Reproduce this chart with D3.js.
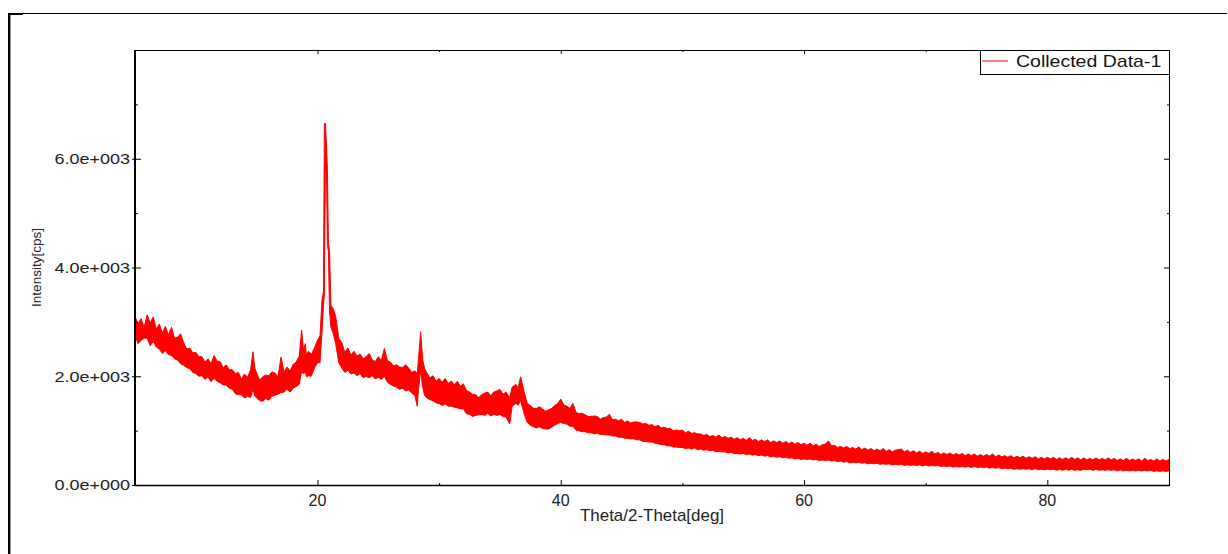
<!DOCTYPE html>
<html lang="en">
<head>
<meta charset="UTF-8">
<title>XRD pattern</title>
<script src="https://cdn.jsdelivr.net/npm/d3@7"></script>
<style>
  body { margin: 0; background: #fff; }
  svg { display: block; font-family: "Liberation Sans", Arial, sans-serif; }
</style>
</head>
<body>
<svg id="chart" width="1228" height="554"></svg>
<script>
// 2-theta positions (deg) and the top / bottom edge of the noisy trace (cps)
// one line per degree, the three arrays line up line by line
const twoTheta = [
  5, 5.25, 5.5, 5.75,
  6, 6.25, 6.5, 6.75,
  7, 7.25, 7.5, 7.75,
  8, 8.25, 8.5, 8.75,
  9, 9.25, 9.5, 9.75,
  10, 10.25, 10.5, 10.75,
  11, 11.25, 11.5, 11.75,
  12, 12.25, 12.5, 12.75,
  13, 13.25, 13.5, 13.75,
  14, 14.25, 14.5, 14.7, 14.85,
  15, 15.25, 15.5, 15.75,
  16, 16.25, 16.5, 16.75,
  17, 17.25, 17.5, 17.75,
  18, 18.25, 18.5, 18.7, 18.85,
  19, 19.1, 19.25, 19.5, 19.75,
  20, 20.21, 20.37, 20.49, 20.57, 20.65, 20.74, 20.82, 20.9, 20.99,
  21.11, 21.28, 21.5, 21.75,
  22, 22.25, 22.5, 22.75,
  23, 23.25, 23.5, 23.75,
  24, 24.25, 24.5, 24.75,
  25, 25.25, 25.5, 25.75,
  26, 26.25, 26.5, 26.75,
  27, 27.25, 27.5, 27.75,
  28, 28.2, 28.3, 28.48, 28.65, 28.8,
  29, 29.25, 29.5, 29.75,
  30, 30.25, 30.5, 30.75,
  31, 31.25, 31.5, 31.75,
  32, 32.25, 32.5, 32.75,
  33, 33.25, 33.5, 33.75,
  34, 34.25, 34.5, 34.75,
  35, 35.25, 35.5, 35.8,
  36, 36.3, 36.5, 36.7,
  37, 37.25, 37.5, 37.75,
  38, 38.25, 38.5, 38.75,
  39, 39.25, 39.5, 39.75,
  40, 40.25, 40.5, 40.75,
  41, 41.25, 41.5, 41.75,
  42, 42.25, 42.5, 42.75,
  43, 43.25, 43.5, 43.75,
  44, 44.25, 44.5, 44.75,
  45, 45.25, 45.5, 45.75,
  46, 46.25, 46.5, 46.75,
  47, 47.25, 47.5, 47.75,
  48, 48.25, 48.5, 48.75,
  49, 49.25, 49.5, 49.75,
  50, 50.25, 50.5, 50.75,
  51, 51.25, 51.5, 51.75,
  52, 52.25, 52.5, 52.75,
  53, 53.25, 53.5, 53.75,
  54, 54.25, 54.5, 54.75,
  55, 55.25, 55.5, 55.75,
  56, 56.25, 56.5, 56.75,
  57, 57.25, 57.5, 57.75,
  58, 58.25, 58.5, 58.75,
  59, 59.25, 59.5, 59.75,
  60, 60.25, 60.5, 60.75,
  61, 61.25, 61.5, 61.75,
  62, 62.25, 62.5, 62.75,
  63, 63.25, 63.5, 63.75,
  64, 64.25, 64.5, 64.75,
  65, 65.25, 65.5, 65.75,
  66, 66.25, 66.5, 66.75,
  67, 67.25, 67.5, 67.75,
  68, 68.25, 68.5, 68.75,
  69, 69.25, 69.5, 69.75,
  70, 70.25, 70.5, 70.75,
  71, 71.25, 71.5, 71.75,
  72, 72.25, 72.5, 72.75,
  73, 73.25, 73.5, 73.75,
  74, 74.25, 74.5, 74.75,
  75, 75.25, 75.5, 75.75,
  76, 76.25, 76.5, 76.75,
  77, 77.25, 77.5, 77.75,
  78, 78.25, 78.5, 78.75,
  79, 79.25, 79.5, 79.75,
  80, 80.25, 80.5, 80.75,
  81, 81.25, 81.5, 81.75,
  82, 82.25, 82.5, 82.75,
  83, 83.25, 83.5, 83.75,
  84, 84.25, 84.5, 84.75,
  85, 85.25, 85.5, 85.75,
  86, 86.25, 86.5, 86.75,
  87, 87.25, 87.5, 87.75,
  88, 88.25, 88.5, 88.75,
  89, 89.25, 89.5, 89.75,
  90
];
const upper = [
  3100, 2960, 3060, 2900,
  3130, 2980, 3090, 2870,
  2960, 2800, 2920, 2760,
  2900, 2700, 2720, 2780,
  2620, 2500, 2520, 2430,
  2440, 2360, 2360, 2260,
  2320, 2230, 2380, 2280,
  2270, 2160, 2210, 2120,
  2120, 2050, 2070, 1950,
  2040, 1980, 2120, 2450, 2150,
  2060, 1930, 1990, 2020,
  2010, 2080, 2060, 1990,
  2350, 2080, 2170, 2090,
  2220, 2260, 2370, 2850, 2480,
  2600, 2380, 2460, 2400, 2520,
  2660, 2750, 3400, 3550, 6650, 6650, 6250, 5800, 4450, 4300,
  3300, 3250, 3100, 2700,
  2620, 2440, 2520, 2390,
  2460, 2370, 2410, 2320,
  2360, 2420, 2300, 2270,
  2360, 2290, 2510, 2290,
  2260, 2190, 2210, 2170,
  2160, 2210, 2150, 2070,
  2100, 2050, 2300, 2820, 2300, 2150,
  2060, 1970, 2010, 1910,
  1960, 1890, 1960, 1870,
  1910, 1840, 1910, 1810,
  1860, 1740, 1710, 1670,
  1660, 1610, 1660, 1690,
  1710, 1640, 1710, 1730,
  1760, 1670, 1710, 1600,
  1800, 1850, 1790, 1990,
  1700, 1500, 1460, 1410,
  1410, 1440, 1400, 1360,
  1380, 1410, 1460, 1500,
  1580, 1470, 1450, 1410,
  1500, 1340, 1310, 1320,
  1290, 1260, 1260, 1270,
  1260, 1210, 1240, 1250,
  1300, 1200, 1210, 1180,
  1210, 1150, 1180, 1140,
  1160, 1160, 1150, 1120,
  1130, 1100, 1110, 1070,
  1100, 1050, 1060, 1040,
  1040, 1000, 1010, 1000,
  1010, 960, 990, 950,
  960, 940, 940, 910,
  930, 890, 910, 880,
  920, 870, 890, 860,
  880, 840, 870, 830,
  860, 820, 870, 820,
  840, 800, 830, 800,
  830, 780, 810, 780,
  810, 770, 800, 760,
  790, 750, 780, 740,
  770, 730, 770, 720,
  750, 710, 740, 750,
  810, 720, 730, 690,
  710, 680, 710, 670,
  690, 660, 700, 650,
  680, 640, 670, 630,
  660, 630, 670, 620,
  650, 610, 640, 650,
  660, 610, 640, 600,
  630, 590, 620, 580,
  610, 580, 620, 570,
  600, 560, 590, 560,
  590, 550, 580, 550,
  580, 540, 570, 540,
  570, 530, 560, 530,
  560, 530, 570, 520,
  550, 520, 540, 510,
  540, 500, 530, 500,
  530, 490, 520, 490,
  520, 480, 510, 480,
  510, 480, 510, 470,
  500, 470, 500, 470,
  510, 470, 500, 460,
  500, 460, 490, 460,
  500, 460, 490, 460,
  500, 460, 490, 450,
  480, 450, 490, 450,
  480, 450, 480, 440,
  490, 450, 470, 440,
  480, 440, 470, 440,
  470
];
const lower = [
  2750, 2600, 2660, 2700,
  2700, 2560, 2640, 2540,
  2500, 2420, 2470, 2400,
  2380, 2320, 2300, 2230,
  2200, 2160, 2140, 2070,
  2050, 2000, 2010, 1940,
  1990, 1900, 1960, 1910,
  1880, 1840, 1840, 1780,
  1760, 1680, 1660, 1660,
  1600, 1630, 1610, 1760, 1640,
  1600, 1550, 1540, 1590,
  1560, 1630, 1650, 1670,
  1700, 1710, 1760, 1710,
  1780, 1810, 1850, 2100, 2040,
  2100, 1990, 2010, 2000, 2150,
  2250, 2250, 2800, 3300, 3500, 5800, 5800, 4400, 4300, 3200,
  2900, 2800, 2600, 2250,
  2150, 2070, 2110, 2040,
  2060, 2010, 2050, 1970,
  2000, 1970, 2010, 1950,
  1980, 1940, 2000, 1890,
  1850, 1820, 1800, 1760,
  1780, 1730, 1750, 1690,
  1650, 1450, 1750, 2100, 1800, 1650,
  1600, 1570, 1550, 1510,
  1500, 1460, 1490, 1450,
  1450, 1430, 1420, 1400,
  1400, 1310, 1300, 1260,
  1280, 1290, 1300, 1280,
  1320, 1270, 1300, 1280,
  1300, 1260, 1250, 1120,
  1450, 1500, 1470, 1550,
  1300, 1150, 1100, 1070,
  1050, 1070, 1040, 1030,
  1030, 1060, 1100, 1130,
  1150, 1130, 1120, 1080,
  1080, 1010, 1000, 980,
  980, 960, 960, 940,
  950, 930, 930, 920,
  920, 900, 900, 880,
  880, 860, 860, 850,
  850, 830, 830, 800,
  800, 790, 790, 770,
  760, 740, 740, 720,
  720, 700, 700, 690,
  690, 670, 680, 660,
  680, 650, 660, 640,
  650, 630, 640, 610,
  620, 610, 610, 590,
  600, 580, 580, 570,
  580, 560, 570, 550,
  560, 540, 550, 530,
  540, 520, 530, 510,
  520, 500, 510, 490,
  500, 480, 490, 470,
  480, 470, 480, 460,
  470, 450, 460, 450,
  460, 440, 450, 430,
  440, 420, 430, 410,
  420, 410, 420, 400,
  410, 390, 400, 390,
  400, 380, 390, 380,
  390, 370, 380, 370,
  380, 360, 370, 360,
  370, 360, 370, 350,
  370, 350, 360, 350,
  360, 340, 350, 340,
  350, 330, 340, 330,
  340, 330, 340, 320,
  340, 320, 330, 320,
  330, 310, 320, 310,
  320, 300, 310, 300,
  310, 290, 300, 290,
  300, 290, 300, 280,
  300, 280, 290, 280,
  290, 280, 290, 270,
  290, 270, 290, 270,
  290, 270, 280, 270,
  290, 280, 290, 270,
  290, 270, 280, 270,
  280, 270, 280, 260,
  280, 260, 270, 260,
  270, 260, 270, 260,
  270, 260, 270, 250,
  260, 250, 260, 250,
  260
];

const xMajor = [20, 40, 60, 80];
const xMinor = [30, 50, 70];
const yMajor = [0, 2000, 4000, 6000];
const yMinor = [1000, 3000, 5000, 7000];

const xDomain = [5, 90];
const yDomain = [0, 8000];
const seriesName = "Collected Data-1";
const xTitle = "Theta/2-Theta[deg]";
const yTitle = "Intensity[cps]";

const plot = { left: 135, top: 50, right: 1169, bottom: 485 };

const svg = d3.select("#chart");

const x = d3.scaleLinear().domain(xDomain).range([plot.left, plot.right]);
const y = d3.scaleLinear().domain(yDomain).range([plot.bottom, plot.top]);

// "6.0e+003" style labels
const fmt = v => {
    const [m, e] = v.toExponential(1).split("e");
    return m + "e" + e[0] + String(Math.abs(+e)).padStart(3, "0");
};

// outer frame (top and left edges only)
svg.append("line")
    .attr("x1", 8).attr("x2", 1227).attr("y1", 13.5).attr("y2", 13.5)
    .attr("stroke", "#000").attr("stroke-width", 1.2);
svg.append("line")
    .attr("x1", 9.2).attr("x2", 9.2).attr("y1", 13).attr("y2", 554)
    .attr("stroke", "#000").attr("stroke-width", 2.4);
svg.append("rect")
    .attr("x", 8).attr("y", 13).attr("width", 15).attr("height", 2).attr("fill", "#000");

// data
const rows = twoTheta.map((t, i) => ({ t, hi: upper[i], lo: lower[i] }));

svg.append("clipPath").attr("id", "clip")
    .append("rect")
    .attr("x", plot.left).attr("y", plot.top)
    .attr("width", plot.right - plot.left).attr("height", plot.bottom - plot.top);

const band = d3.area()
    .x(d => x(d.t))
    .y0(d => y(d.lo))
    .y1(d => y(d.hi));

svg.append("path")
    .datum(rows)
    .attr("clip-path", "url(#clip)")
    .attr("d", band)
    .attr("fill", "#ff0000")
    .attr("stroke", "#ff0000")
    .attr("stroke-width", 1)
    .attr("stroke-linejoin", "miter");

// ticks on all four sides
function ticks(axis, transform) {
    const g = svg.append("g").attr("transform", transform).call(axis);
    g.select(".domain").remove();
    g.selectAll("line").attr("stroke", "#000");
    return g;
}
const yb = `translate(0,${plot.bottom})`, yt = `translate(0,${plot.top})`;
const xl = `translate(${plot.left},0)`, xr = `translate(${plot.right},0)`;

ticks(d3.axisBottom(x).tickValues(xMajor).tickSize(-5).tickFormat(""), yb);
ticks(d3.axisBottom(x).tickValues(xMinor).tickSize(-2).tickFormat(""), yb);
ticks(d3.axisTop(x).tickValues(xMajor).tickSize(-4).tickFormat(""), yt);
ticks(d3.axisTop(x).tickValues(xMinor).tickSize(-2).tickFormat(""), yt);
ticks(d3.axisLeft(y).tickValues(yMajor).tickSize(-6).tickFormat(""), xl);
ticks(d3.axisLeft(y).tickValues(yMajor).tickSize(3).tickFormat(""), xl);
ticks(d3.axisLeft(y).tickValues(yMinor).tickSize(-3).tickFormat(""), xl);
ticks(d3.axisRight(y).tickValues(yMajor).tickSize(-5).tickFormat(""), xr);
ticks(d3.axisRight(y).tickValues(yMinor).tickSize(-2).tickFormat(""), xr);

// plot frame
svg.append("rect")
    .attr("x", plot.left + 0.5).attr("y", plot.top + 0.5)
    .attr("width", plot.right - plot.left).attr("height", plot.bottom - plot.top)
    .attr("fill", "none").attr("stroke", "#000").attr("stroke-width", 1);
svg.append("line")
    .attr("x1", plot.left).attr("x2", plot.left)
    .attr("y1", plot.top).attr("y2", plot.bottom + 1)
    .attr("stroke", "#000").attr("stroke-width", 2);
svg.append("line")
    .attr("x1", plot.left).attr("x2", plot.right + 1)
    .attr("y1", plot.bottom + 0.5).attr("y2", plot.bottom + 0.5)
    .attr("stroke", "#000").attr("stroke-width", 1.5);

// tick labels
svg.append("g").selectAll("text")
    .data(yMajor)
    .join("text")
    .attr("transform", d => `translate(${plot.left - 5},${y(d)}) scale(1.2,1)`)
    .attr("dy", "0.36em")
    .attr("text-anchor", "end")
    .attr("font-size", 15)
    .attr("fill", "#222")
    .text(fmt);

svg.append("g").selectAll("text")
    .data(xMajor)
    .join("text")
    .attr("x", d => x(d))
    .attr("y", 506)
    .attr("text-anchor", "middle")
    .attr("font-size", 16)
    .attr("fill", "#222")
    .text(d => d);

// axis titles
svg.append("text")
    .attr("transform", `translate(${(plot.left + plot.right) / 2},521) scale(1.06,1)`)
    .attr("text-anchor", "middle")
    .attr("font-size", 16)
    .attr("fill", "#222")
    .text(xTitle);

svg.append("text")
    .attr("transform", `translate(41,${(plot.top + plot.bottom) / 2}) rotate(-90)`)
    .attr("text-anchor", "middle")
    .attr("font-size", 13.5)
    .attr("fill", "#222")
    .text(yTitle);

// legend
const legend = svg.append("g");
legend.append("rect")
    .attr("x", 980.5).attr("y", plot.top + 0.5)
    .attr("width", plot.right - 980).attr("height", 24)
    .attr("fill", "#fff").attr("stroke", "#000");
legend.append("line")
    .attr("x1", 982).attr("x2", 1008).attr("y1", 61).attr("y2", 61)
    .attr("stroke", "#ff0000").attr("stroke-width", 1);
legend.append("text")
    .attr("transform", "translate(1016,67) scale(1.22,1)")
    .attr("font-size", 16)
    .attr("fill", "#111")
    .text(seriesName);
</script>
</body>
</html>
